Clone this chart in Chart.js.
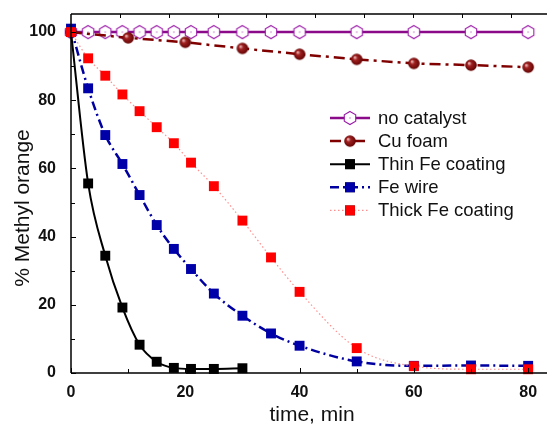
<!DOCTYPE html>
<html>
<head>
<meta charset="utf-8">
<script src="https://cdn.jsdelivr.net/npm/chart.js@4"></script>
<style>
html,body{margin:0;padding:0;background:#fff;}
#wrap{position:relative;width:547px;height:426px;}
</style>
</head>
<body>
<div id="wrap"><canvas id="c" width="547" height="426"></canvas></div>
<script>
// ---- data ----
const seriesNames = ["no catalyst", "Cu foam", "Thin Fe coating", "Fe wire", "Thick Fe coating"];
const timeNoCat = [0, 3, 6, 9, 12, 15, 18, 21, 25, 30, 35, 40, 50, 60, 70, 80];
const noCatalyst = [100, 100, 100, 100, 100, 100, 100, 100, 100, 100, 100, 100, 100, 100, 100, 100];
const timeCu = [0, 10, 20, 30, 40, 50, 60, 70, 80];
const cuFoam = [100, 98.3, 97.0, 95.2, 93.5, 92.0, 90.8, 90.3, 89.7];
const timeThin = [0, 3, 6, 9, 12, 15, 18, 21, 25, 30];
const thinFe = [100, 55.6, 34.4, 19.2, 8.3, 3.3, 1.5, 1.2, 1.2, 1.4];
const timeWire = [0, 3, 6, 9, 12, 15, 18, 21, 25, 30, 35, 40, 50, 60, 70, 80];
const feWire = [101, 83.5, 69.8, 61.3, 52.2, 43.4, 36.4, 30.5, 23.3, 16.8, 11.6, 8.0, 3.4, 2.1, 2.2, 2.1];
const timeThick = [0, 3, 6, 9, 12, 15, 18, 21, 25, 30, 35, 40, 50, 60, 70, 80];
const thickFe = [100, 92.3, 87.2, 81.7, 76.8, 72.1, 67.4, 61.7, 54.8, 44.7, 33.9, 23.8, 7.3, 2.0, 1.1, 1.1];
const xTickLabels = [0, 20, 40, 60, 80];
const yTickLabels = [0, 20, 40, 60, 80, 100];
const xTitle = "time, min";
const yTitle = "% Methyl orange";

const FONT = '"Liberation Sans", Arial, sans-serif';

function pts(xs, ys) { return xs.map((x, i) => ({x: x, y: ys[i]})); }

// hexagon marker
function hexMarker() {
  const c = document.createElement('canvas'); c.width = 16; c.height = 16;
  const g = c.getContext('2d');
  g.beginPath();
  for (let k = 0; k < 6; k++) {
    const a = -Math.PI / 2 + k * Math.PI / 3;
    const px = 8 + 6.6 * Math.cos(a), py = 8 + 6.6 * Math.sin(a);
    k ? g.lineTo(px, py) : g.moveTo(px, py);
  }
  g.closePath();
  g.fillStyle = '#fff'; g.fill();
  g.strokeStyle = '#9a1aa8'; g.lineWidth = 1.1; g.stroke();
  g.fillStyle = '#9a1aa8'; g.fillRect(7.5, 7.5, 1, 1);
  return c;
}
// shaded ball marker
function ballMarker() {
  const c = document.createElement('canvas'); c.width = 14; c.height = 14;
  const g = c.getContext('2d');
  const gr = g.createRadialGradient(5, 5, 0.5, 7, 7, 6.5);
  gr.addColorStop(0, '#e8b0b0');
  gr.addColorStop(0.3, '#a02020');
  gr.addColorStop(1, '#5a0000');
  g.beginPath(); g.arc(7, 7, 5.8, 0, Math.PI * 2);
  g.fillStyle = gr; g.fill();
  return c;
}
const HEX = hexMarker(), BALL = ballMarker();

const datasets = [
  {label: seriesNames[0], data: pts(timeNoCat, noCatalyst), borderColor: '#8a0a8a', borderWidth: 2.5,
   pointStyle: HEX, pointRadius: 7, order: 5, borderDash: []},
  {label: seriesNames[1], data: pts(timeCu, cuFoam), borderColor: '#800000', borderWidth: 2.5,
   borderDash: [11, 5, 3, 5], pointStyle: BALL, pointRadius: 6, order: 4},
  {label: seriesNames[2], data: pts(timeThin, thinFe), borderColor: '#000', borderWidth: 2,
   pointStyle: 'rect', pointRadius: 7, pointBackgroundColor: '#000', pointBorderColor: '#000',
   cubicInterpolationMode: 'monotone', order: 3, borderDash: []},
  {label: seriesNames[3], data: pts(timeWire, feWire), borderColor: '#0000a0', borderWidth: 2.5,
   borderDash: [9, 4, 2, 4], pointStyle: 'rect', pointRadius: 7, pointBackgroundColor: '#0000a8',
   pointBorderColor: '#0000a8', cubicInterpolationMode: 'monotone', order: 2},
  {label: seriesNames[4], data: pts(timeThick, thickFe), borderColor: '#ff9090', borderWidth: 1.2,
   borderDash: [1.5, 2.5], pointStyle: 'rect', pointRadius: 7, pointBackgroundColor: '#ff0000',
   pointBorderColor: '#ff0000', cubicInterpolationMode: 'monotone', order: 1}
];
datasets.forEach(d => { d.clip = false; d.pointBorderWidth = 0; d.pointHoverRadius = d.pointRadius; d.fill = false; });

const framePlugin = {
  id: 'frame',
  afterDatasetsDraw(chart) {
    const {ctx, chartArea: a, scales: {x, y}} = chart;
    ctx.save();
    ctx.strokeStyle = '#000'; ctx.lineWidth = 1.5;
    ctx.beginPath();
    ctx.moveTo(a.left, a.top); ctx.lineTo(a.right + 1, a.top);
    ctx.moveTo(a.left, a.top); ctx.lineTo(a.left, a.bottom);
    ctx.moveTo(a.left, a.bottom); ctx.lineTo(a.right + 1, a.bottom);
    ctx.stroke();
    ctx.lineWidth = 1;
    ctx.beginPath();
    // bottom inward ticks
    for (let v = 0; v <= 80; v += 10) {
      const px = Math.round(x.getPixelForValue(v)) + 0.5;
      ctx.moveTo(px, a.bottom); ctx.lineTo(px, a.bottom - (v % 20 === 0 ? 5 : 4));
    }
    // top inward ticks
    for (let v = 8.55; v < 83; v += 8.55) {
      const px = Math.round(x.getPixelForValue(v)) + 0.5;
      ctx.moveTo(px, a.top); ctx.lineTo(px, a.top + 4);
    }
    // left inward ticks
    for (let v = 0; v <= 100; v += 10) {
      const py = Math.round(y.getPixelForValue(v)) + 0.5;
      ctx.moveTo(a.left, py); ctx.lineTo(a.left + (v % 20 === 0 ? 5 : 4), py);
    }
    ctx.stroke();
    ctx.restore();
  },
  afterDraw(chart) {
    const ctx = chart.ctx;
    ctx.save();
    ctx.fillStyle = '#111';
    ctx.font = '21px ' + FONT;
    ctx.textAlign = 'center'; ctx.textBaseline = 'middle';
    ctx.fillText(xTitle, 312, 415);
    ctx.translate(23, 208); ctx.rotate(-Math.PI / 2);
    ctx.fillText(yTitle, 0, 0);
    ctx.restore();

    // legend
    ctx.save();
    chart.data.datasets.forEach((d, i) => {
      const yy = 118 + i * 23.1;
      ctx.save();
      ctx.strokeStyle = d.borderColor; ctx.lineWidth = d.borderWidth;
      ctx.setLineDash(d.borderDash || []);
      ctx.beginPath(); ctx.moveTo(330, yy); ctx.lineTo(370, yy); ctx.stroke();
      ctx.restore();
      Chart.helpers.drawPoint(ctx, {pointStyle: d.pointStyle, radius: d.pointRadius, rotation: 0, borderWidth: 0},
        350, yy);
      if (d.pointStyle === 'rect') { ctx.fillStyle = d.pointBackgroundColor; ctx.fill(); }
      ctx.fillStyle = '#111';
      ctx.font = '18.5px ' + FONT;
      ctx.textAlign = 'left'; ctx.textBaseline = 'middle';
      ctx.fillText(d.label, 378, yy + 1);
    });
    ctx.restore();
  }
};

new Chart(document.getElementById('c'), {
  type: 'line',
  data: {datasets: datasets},
  plugins: [framePlugin],
  options: {
    responsive: false, animation: false, devicePixelRatio: 1,
    layout: {padding: {top: 14, right: 0, left: 0, bottom: 0}, autoPadding: false},
    plugins: {legend: {display: false}, tooltip: {enabled: false}},
    scales: {
      x: {
        type: 'linear', min: 0, max: 83.3,
        grid: {display: false, drawTicks: false},
        border: {display: false},
        afterBuildTicks: s => { s.ticks = xTickLabels.map(v => ({value: v})); },
        afterFit: s => { s.height = 53; s.paddingLeft = 0; s.paddingRight = 0; },
        ticks: {padding: 10, color: '#111', font: {family: FONT, size: 16, weight: 'bold'}, maxRotation: 0}
      },
      y: {
        type: 'linear', min: 0, max: 105.3,
        grid: {display: false, drawTicks: false},
        border: {display: false},
        afterBuildTicks: s => { s.ticks = yTickLabels.map(v => ({value: v})); },
        afterFit: s => { s.width = 71; s.paddingTop = 0; s.paddingBottom = 0; },
        ticks: {padding: 15, color: '#111', font: {family: FONT, size: 16, weight: 'bold'}}
      }
    }
  }
});
</script>
</body>
</html>
